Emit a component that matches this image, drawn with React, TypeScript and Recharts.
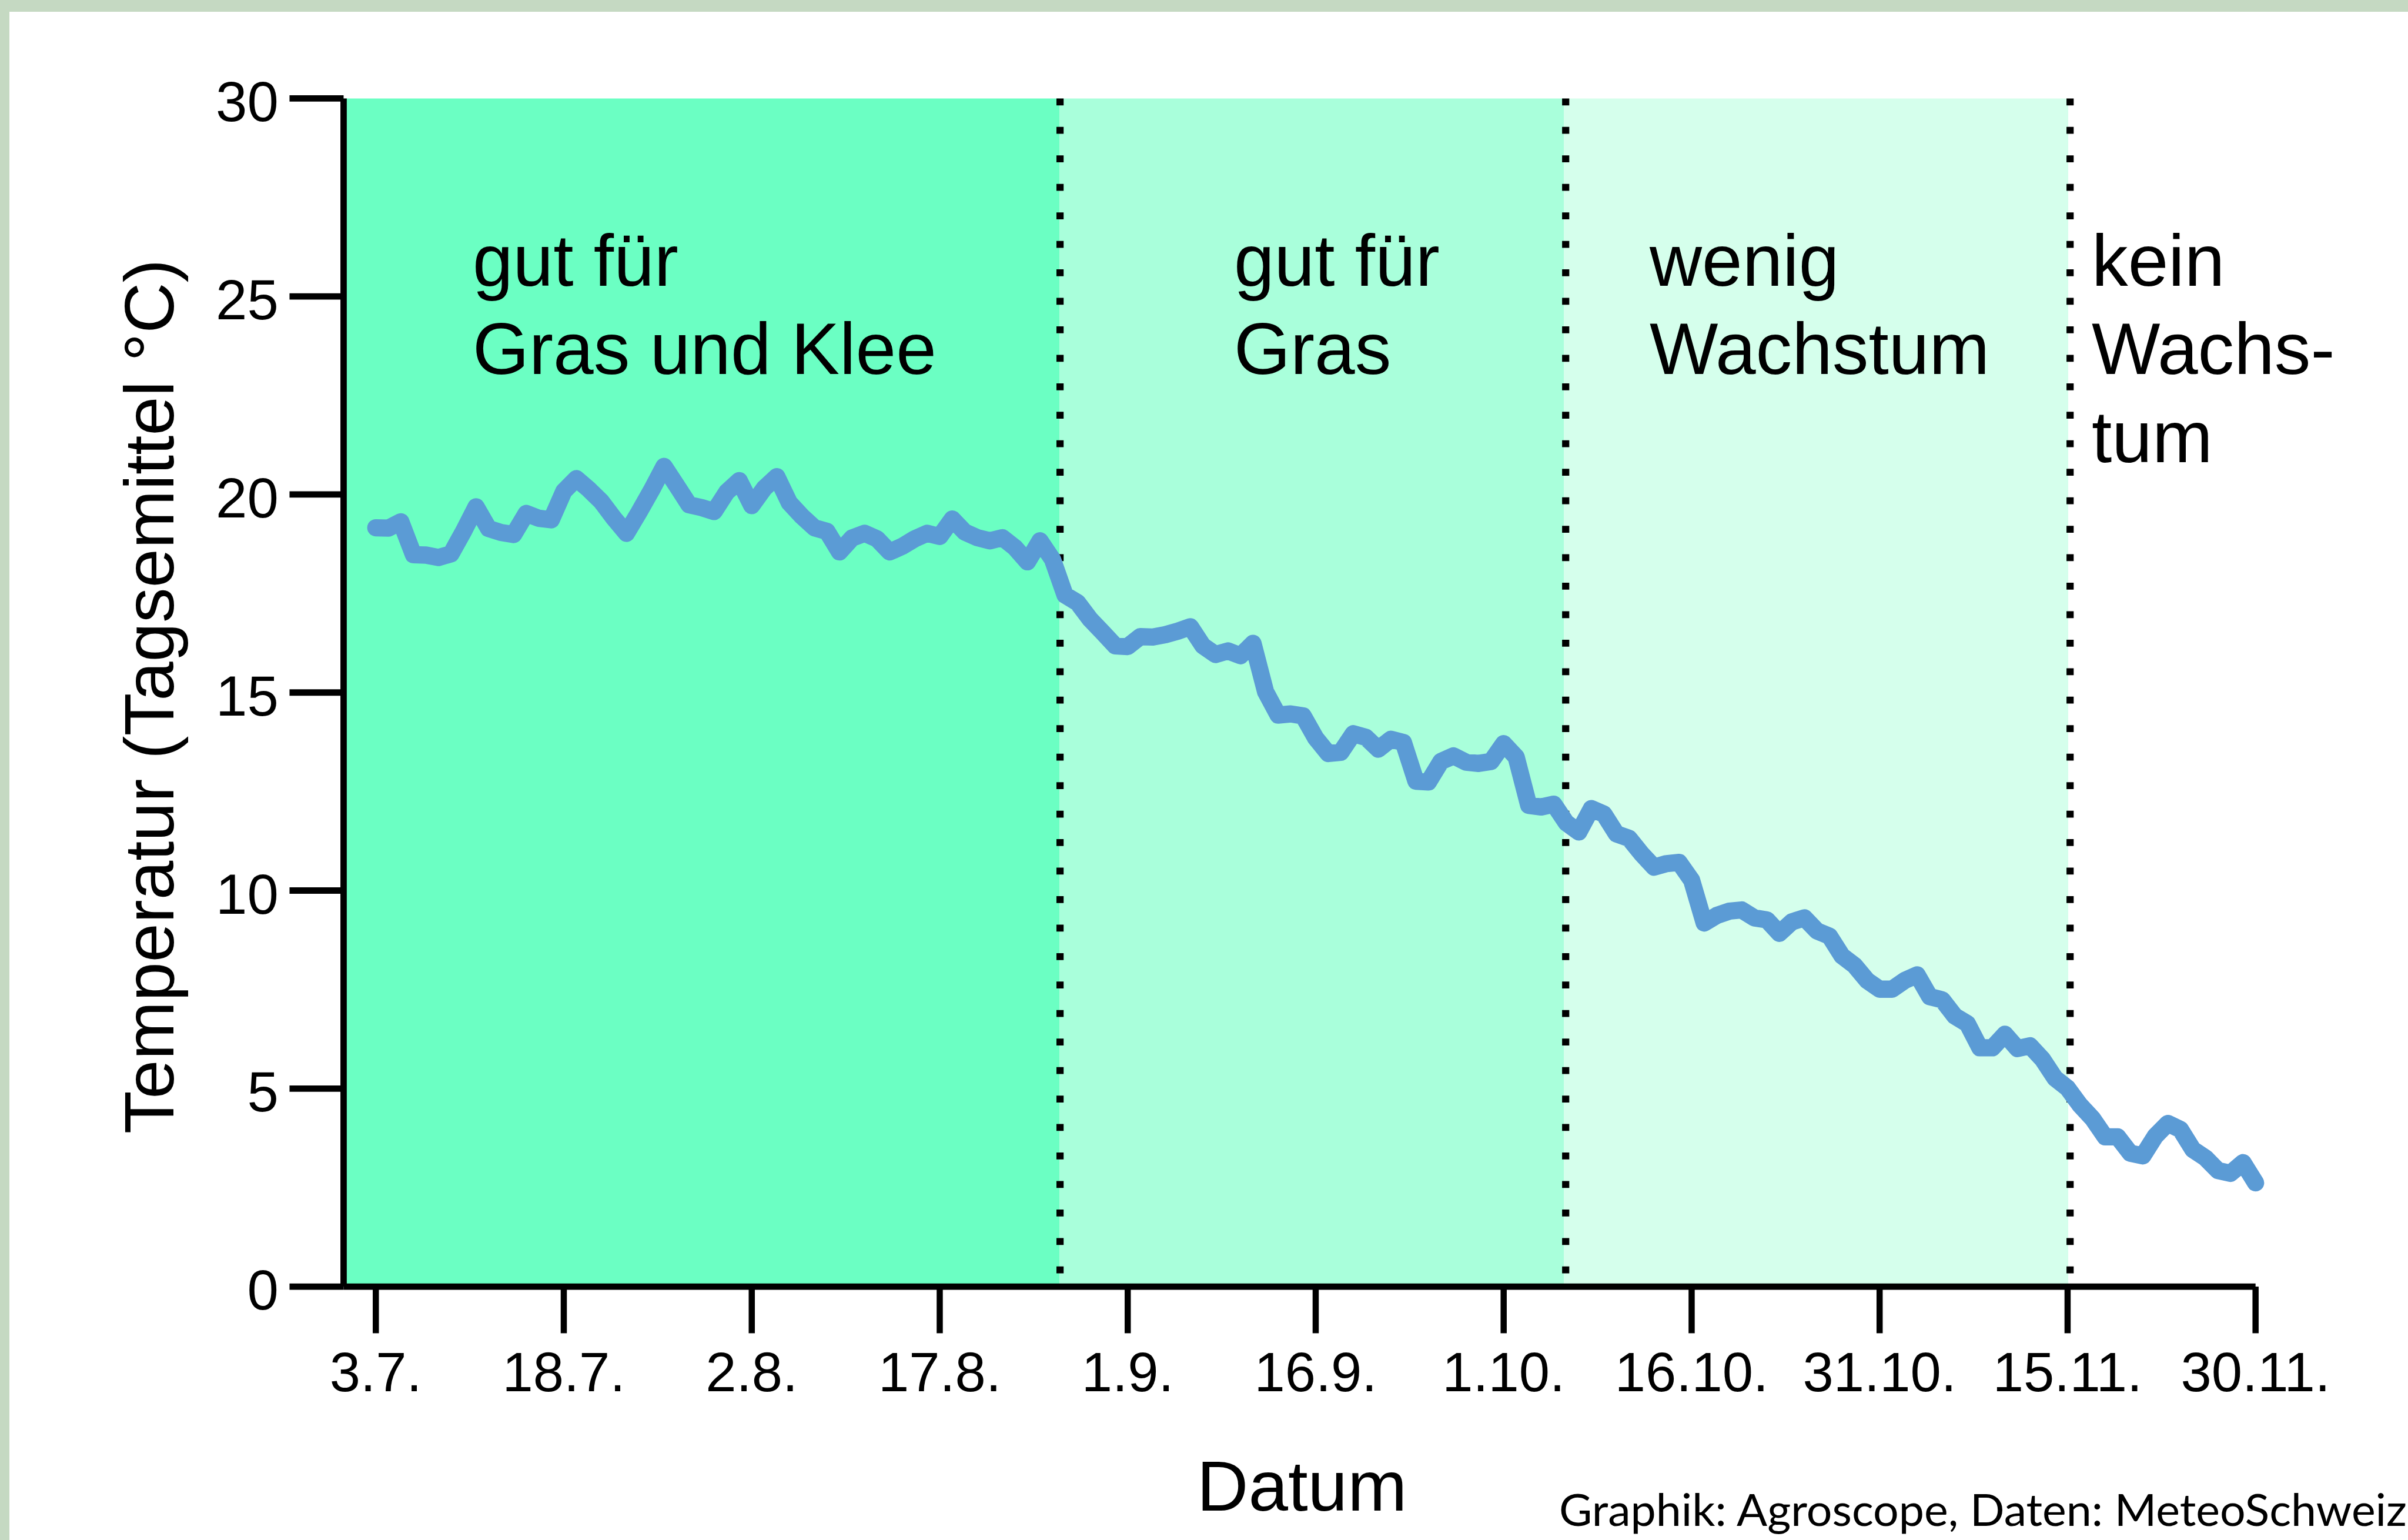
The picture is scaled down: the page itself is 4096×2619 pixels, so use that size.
import { LineChart, Line, XAxis, YAxis, ReferenceArea, ReferenceLine } from "recharts";

const W = 4096;
const H = 2619;
const S = 0.979; // reference -> window

const FONT = "'Liberation Sans', Arial, Helvetica, sans-serif";

// Tagesmittel der Temperatur (°C), 3.7. bis 30.11., ein Wert pro Tag
const temperature = [
  19.16, 19.15, 19.31, 18.48, 18.47, 18.41, 18.5, 19.07, 19.69, 19.14,
  19.04, 18.99, 19.52, 19.4, 19.36, 20.08, 20.4, 20.13, 19.82, 19.4,
  19.02, 19.55, 20.11, 20.71, 20.23, 19.74, 19.67, 19.57, 20.06, 20.35,
  19.72, 20.16, 20.45, 19.79, 19.45, 19.16, 19.07, 18.55, 18.9, 19.02,
  18.88, 18.55, 18.69, 18.88, 19.02, 18.94, 19.38, 19.05, 18.91, 18.83,
  18.91, 18.66, 18.3, 18.83, 18.36, 17.46, 17.27, 16.85, 16.52, 16.18,
  16.16, 16.41, 16.4, 16.46, 16.55, 16.66, 16.18, 15.96, 16.05, 15.93,
  16.24, 15.02, 14.43, 14.46, 14.41, 13.85, 13.46, 13.49, 13.96, 13.87,
  13.57, 13.82, 13.74, 12.76, 12.74, 13.26, 13.4, 13.24, 13.21, 13.26,
  13.71, 13.37, 12.15, 12.11, 12.18, 11.71, 11.48, 12.07, 11.93, 11.43,
  11.32, 10.93, 10.59, 10.68, 10.71, 10.26, 9.18, 9.37, 9.48, 9.51,
  9.31, 9.26, 8.92, 9.21, 9.31, 8.98, 8.85, 8.35, 8.11, 7.73,
  7.51, 7.51, 7.73, 7.87, 7.32, 7.24, 6.83, 6.64, 6.03, 6.03,
  6.37, 6.01, 6.08, 5.74, 5.26, 5.01, 4.58, 4.24, 3.78, 3.78,
  3.37, 3.3, 3.8, 4.12, 3.97, 3.46, 3.25, 2.93, 2.86, 3.13,
  2.62,
];

// Tage seit 3.7.
const tickDays = [0, 15, 30, 45, 60, 75, 90, 105, 120, 135, 150];
const tickLabels = ["3.7.", "18.7.", "2.8.", "17.8.", "1.9.", "16.9.", "1.10.", "16.10.", "31.10.", "15.11.", "30.11."];
const yTicks = [0, 5, 10, 15, 20, 25, 30];
const xMin = -2.57;

const zoneFrom = [xMin, 54.55, 94.8];
const zoneTo = [54.55, 94.8, 135.05];
const zoneColors = ["#6bffc3", "#a9ffdb", "#d5ffec"];
const zoneBorders = [54.6, 94.95, 135.2];

const zoneTexts = [
  ["gut für", "Gras und Klee"],
  ["gut für", "Gras"],
  ["wenig", "Wachstum"],
  ["kein", "Wachs-", "tum"],
];

const data = temperature.map((t, i) => ({ day: i, temp: t }));

const plotLeft = 597 * S;
const plotRight = 3919 * S;
const plotTop = 171 * S;
const plotBottom = 2235 * S;

function XTick(props: any) {
  const { x, y, payload } = props;
  const label = tickLabels[tickDays.indexOf(payload.value)];
  return (
    <text x={x} y={y} dy="0.71em" textAnchor="middle" fontSize={94} fontFamily={FONT} fill="#000">
      {label}
    </text>
  );
}

function YTick(props: any) {
  const { x, y, payload } = props;
  return (
    <text x={x} y={y} dy={0.355 * 96 + 5} textAnchor="end" fontSize={96} fontFamily={FONT} fill="#000">
      {payload.value}
    </text>
  );
}

const labelX = [804, 2099, 2806, 3558];
const lineY = [485.6, 636.4, 786.1];

export default function App() {
  return (
    <div style={{ position: "absolute", left: 0, top: 0, width: W, height: H, background: "#fff", overflow: "hidden" }}>
      <div style={{ position: "absolute", left: 0, top: 0, width: W, height: 19.6, background: "#c5d9c2" }} />
      <div style={{ position: "absolute", left: 0, top: 0, width: 15.7, height: H, background: "#c5d9c2" }} />
      <div style={{ position: "absolute", left: 0, top: 0 }}>
        <LineChart
          width={W}
          height={H}
          data={data}
          margin={{ top: plotTop, right: W - plotRight, bottom: 0, left: 0 }}
        >
          {zoneFrom.map((x1, i) => (
            <ReferenceArea
              key={"z" + i}
              x1={x1}
              x2={zoneTo[i]}
              y1={0}
              y2={30}
              fill={zoneColors[i]}
              fillOpacity={1}
              stroke="none"
            />
          ))}
          {zoneBorders.map((b, i) => (
            <ReferenceLine
              key={"b" + i}
              segment={[{ x: b, y: 30 }, { x: b, y: 0 }]}
              stroke="#000"
              strokeWidth={12.2}
              strokeDasharray="11.75 36.7"
            />
          ))}
          <XAxis
            dataKey="day"
            type="number"
            domain={[xMin, 150]}
            ticks={tickDays}
            height={H - plotBottom}
            tick={<XTick />}
            tickSize={79.3}
            tickMargin={32.3}
            axisLine={{ stroke: "#000", strokeWidth: 10.8 }}
            tickLine={{ stroke: "#000", strokeWidth: 10.5 }}
            interval={0}
          />
          <YAxis
            type="number"
            domain={[0, 30]}
            ticks={yTicks}
            width={plotLeft}
            tick={<YTick />}
            tickSize={92}
            tickMargin={18.6}
            axisLine={{ stroke: "#000", strokeWidth: 10.8 }}
            tickLine={{ stroke: "#000", strokeWidth: 10.8 }}
            interval={0}
          />
          <Line
            type="linear"
            dataKey="temp"
            stroke="#5b9bd5"
            strokeWidth={29.3}
            strokeLinejoin="round"
            strokeLinecap="round"
            dot={false}
            activeDot={false}
            isAnimationActive={false}
          />
        </LineChart>
      </div>
      <svg
        width={W}
        height={H}
        style={{ position: "absolute", left: 0, top: 0, pointerEvents: "none" }}
        fontFamily={FONT}
      >
        {zoneTexts.map((lines, i) =>
          lines.map((t, j) => (
            <text key={i + "-" + j} x={labelX[i]} y={lineY[j]} fontSize={123.4} fill="#000">
              {t}
            </text>
          ))
        )}
        <text transform={`translate(${301 * S},${1210 * S}) rotate(-90)`} textAnchor="middle" fontSize={119.4} fill="#000">
          Temperatur (Tagsemittel °C)
        </text>
        <text x={2262 * S} y={2624 * S} textAnchor="middle" fontSize={121.4} fill="#000">
          Datum
        </text>
        <text
          x={2652}
          y={2595.3}
          fontSize={75.4}
          fontFamily="Lato, 'Open Sans', sans-serif"
          textLength={1442}
          lengthAdjust="spacingAndGlyphs"
          fill="#000"
        >
          Graphik: Agroscope, Daten: MeteoSchweiz
        </text>
      </svg>
    </div>
  );
}
